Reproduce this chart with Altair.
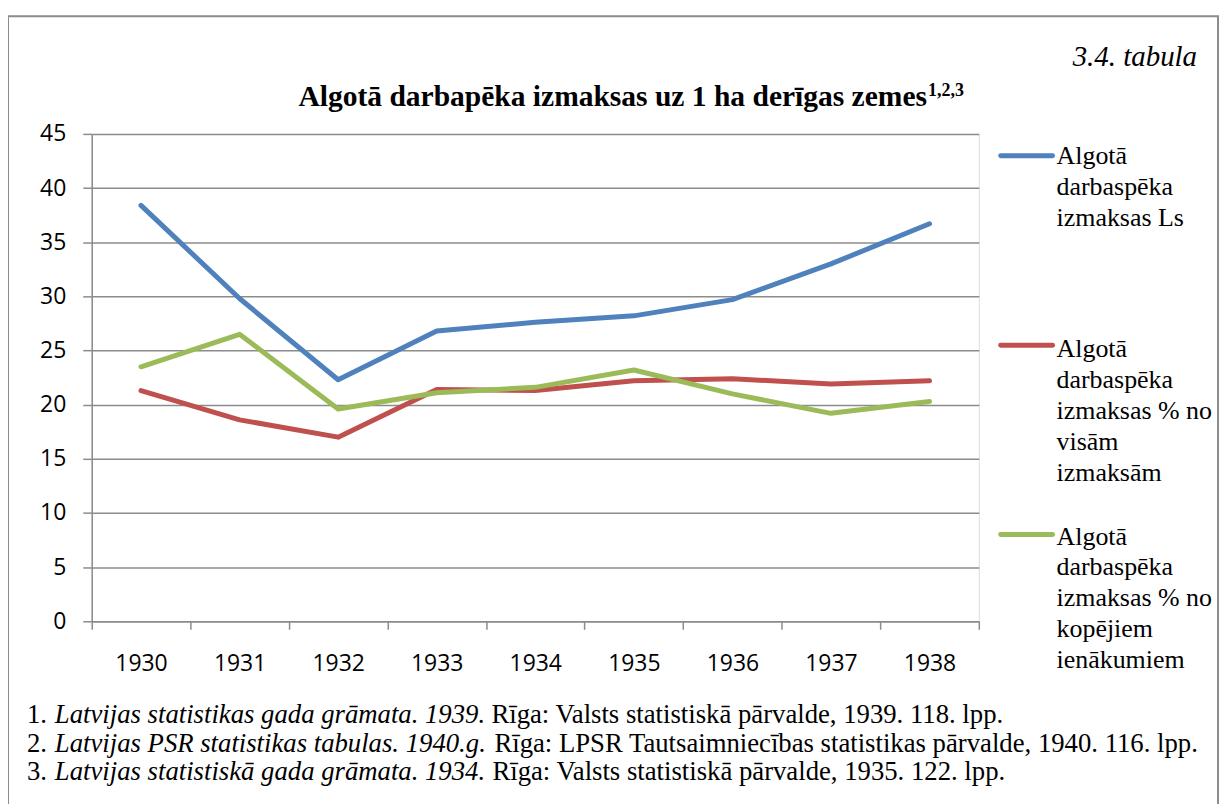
import altair as alt
import pandas as pd

years = ["1930", "1931", "1932", "1933", "1934", "1935", "1936", "1937", "1938"]
cost_ls = [38.4, 29.8, 22.3, 26.8, 27.6, 28.2, 29.7, 33.0, 36.7]
pct_costs = [21.3, 18.6, 17.0, 21.4, 21.3, 22.2, 22.4, 21.9, 22.2]
pct_income = [23.5, 26.5, 19.6, 21.1, 21.6, 23.2, 21.0, 19.2, 20.3]

series_names = [
    "Algotā darbaspēka izmaksas Ls",
    "Algotā darbaspēka izmaksas % no visām izmaksām",
    "Algotā darbaspēka izmaksas % no kopējiem ienākumiem",
]
legend_labels = [
    "Algotā\ndarbaspēka\nizmaksas Ls",
    "Algotā\ndarbaspēka\nizmaksas % no\nvisām\nizmaksām",
    "Algotā\ndarbaspēka\nizmaksas % no\nkopējiem\nienākumiem",
]
colors = ["#4f81bd", "#c0504d", "#9bbb59"]
y_ticks = [0, 5, 10, 15, 20, 25, 30, 35, 40, 45]

title_text = "Algotā darbapēka izmaksas uz 1 ha derīgas zemes"
title_sup = "1,2,3"
table_label = "3.4. tabula"
foot_nums = ["1.", "2.", "3."]
foot_italic = [
    "Latvijas statistikas gada grāmata. 1939.",
    "Latvijas PSR statistikas tabulas. 1940.g.",
    "Latvijas statistiskā gada grāmata. 1934.",
]
foot_rest = [
    "Rīga: Valsts statistiskā pārvalde, 1939. 118. lpp.",
    "Rīga: LPSR Tautsaimniecības statistikas pārvalde, 1940. 116. lpp.",
    "Rīga: Valsts statistiskā pārvalde, 1935. 122. lpp.",
]

GRID = "#8c8c8c"
SERIF = "'Liberation Serif', 'Times New Roman', 'DejaVu Serif', serif"
W, H = 890, 489

all_values = [cost_ls, pct_costs, pct_income]

x_enc = alt.X(
    "year:O",
    scale=alt.Scale(type="band", paddingInner=0, paddingOuter=0, domain=years),
    axis=alt.Axis(
        title=None, labelAngle=0, tickBand="extent", grid=False, tickSize=8,
        labelPadding=23, labelFont="Open Sans", labelFontSize=23, labelColor="black",
        domainColor=GRID, tickColor=GRID, domainWidth=1.5, tickWidth=1.5,
    ),
)
y_enc = alt.Y(
    "value:Q",
    scale=alt.Scale(domain=[0, 45], nice=False),
    axis=alt.Axis(
        title=None, values=y_ticks, grid=True, tickSize=9, labelPadding=17,
        labelFont="Open Sans", labelFontSize=23, labelColor="black",
        domainColor=GRID, tickColor=GRID, gridColor=GRID,
        domainWidth=1.5, tickWidth=1.5, gridWidth=1.5,
    ),
)

layers = []
for name, vals, col in zip(series_names, all_values, colors):
    df = pd.DataFrame({"year": years, "value": vals, "series": name})
    layers.append(
        alt.Chart(df).mark_line(strokeWidth=5, strokeCap="round", strokeJoin="round", color=col)
        .encode(x=x_enc, y=y_enc)
    )

# frame around the figure
frame = alt.Chart(pd.DataFrame({"a": [0]})).mark_rect(
    fillOpacity=0, stroke=GRID, strokeWidth=2
).encode(x=alt.value(-84), x2=alt.value(1130), y=alt.value(-118), y2=alt.value(760))

# title + superscript
title = alt.Chart(pd.DataFrame({"t": [title_text]})).mark_text(
    font=SERIF, fontWeight="bold", fontSize=29.6, align="right",
    baseline="alphabetic", color="black"
).encode(x=alt.value(838), y=alt.value(-28), text="t:N")
sup = alt.Chart(pd.DataFrame({"t": [title_sup]})).mark_text(
    font=SERIF, fontWeight="bold", fontSize=18, align="left",
    baseline="alphabetic", color="black"
).encode(x=alt.value(839), y=alt.value(-38), text="t:N")
tab = alt.Chart(pd.DataFrame({"t": [table_label]})).mark_text(
    font=SERIF, fontStyle="italic", fontSize=29, align="right",
    baseline="alphabetic", color="black"
).encode(x=alt.value(1109), y=alt.value(-68), text="t:N")

# legend
leg_sym_y = [22, 212, 402]
leg_txt_y = [30, 224, 412]
leg_layers = []
for lab, col, sy, ty in zip(legend_labels, colors, leg_sym_y, leg_txt_y):
    d = pd.DataFrame({"t": [lab]})
    leg_layers.append(
        alt.Chart(d).mark_rule(strokeWidth=5, strokeCap="round", color=col)
        .encode(x=alt.value(912), x2=alt.value(964), y=alt.value(sy))
    )
    leg_layers.append(
        alt.Chart(d).mark_text(
            font=SERIF, fontSize=26, align="left", baseline="alphabetic",
            lineBreak="\n", lineHeight=31, color="black"
        ).encode(x=alt.value(968), y=alt.value(ty), text="t:N")
    )

# footnotes
foot_y = [591, 620, 648]
foot_tail_x = [401, 404, 402]
foot_layers = []
for num, ital, rest, fy, fx in zip(foot_nums, foot_italic, foot_rest, foot_y, foot_tail_x):
    foot_layers.append(
        alt.Chart(pd.DataFrame({"t": [num]})).mark_text(
            font=SERIF, fontSize=26.8, align="left", baseline="alphabetic", color="black"
        ).encode(x=alt.value(-65), y=alt.value(fy), text="t:N")
    )
    foot_layers.append(
        alt.Chart(pd.DataFrame({"t": [ital]})).mark_text(
            font=SERIF, fontStyle="italic", fontSize=26.8, align="left",
            baseline="alphabetic", color="black"
        ).encode(x=alt.value(-37), y=alt.value(fy), text="t:N")
    )
    foot_layers.append(
        alt.Chart(pd.DataFrame({"t": [rest]})).mark_text(
            font=SERIF, fontSize=26.8, align="left", baseline="alphabetic", color="black"
        ).encode(x=alt.value(fx), y=alt.value(fy), text="t:N")
    )

chart = alt.layer(
    frame, *layers, title, sup, tab, *leg_layers, *foot_layers
).properties(
    width=W, height=H,
    padding={"left": 84, "top": 125, "right": 244, "bottom": 182},
    autosize=alt.AutoSizeParams(type="none"),
).configure_view(stroke=None).configure(background="white")

chart.save("out.html", embed_options={"renderer": "svg", "actions": False})
